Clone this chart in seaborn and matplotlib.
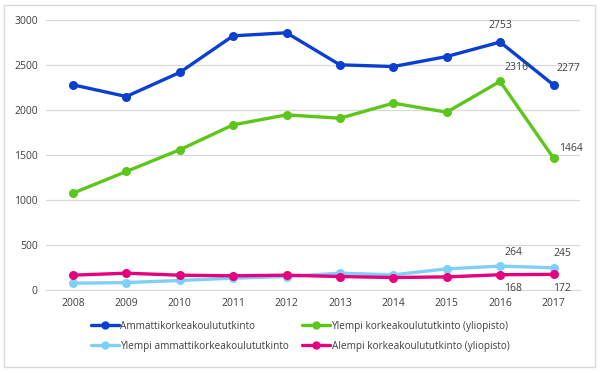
import pandas as pd
import numpy as np
import matplotlib.pyplot as plt
import seaborn as sns
from matplotlib.patches import Rectangle

years = list(range(2008, 2018))
amk = [2278, 2148, 2415, 2822, 2856, 2500, 2481, 2592, 2753, 2277]
ylempi_yo = [1074, 1315, 1556, 1833, 1944, 1907, 2074, 1974, 2316, 1464]
ylempi_amk = [74, 81, 104, 130, 148, 185, 167, 233, 264, 245]
alempi_yo = [163, 185, 163, 156, 163, 148, 137, 144, 168, 172]

series_names = [
    "Ammattikorkeakoulututkinto",
    "Ylempi korkeakoulututkinto (yliopisto)",
    "Ylempi ammattikorkeakoulututkinto",
    "Alempi korkeakoulututkinto (yliopisto)",
]
colors = ["#0a3fd0", "#5cc61a", "#7fd0f7", "#e6007e"]

df = pd.concat(
    [
        pd.DataFrame({"Vuosi": years, "Määrä": vals, "Tutkinto": name})
        for name, vals in zip(series_names, [amk, ylempi_yo, ylempi_amk, alempi_yo])
    ]
)

sns.set_style("white")
plt.rcParams["font.family"] = ["Open Sans", "DejaVu Sans"]

fig = plt.figure(figsize=(6, 3.74), dpi=100)
ax = fig.add_axes([0.077, 0.225, 0.89, 0.722])

sns.lineplot(
    data=df,
    x="Vuosi",
    y="Määrä",
    hue="Tutkinto",
    hue_order=series_names,
    palette=colors,
    marker="o",
    markersize=6.5,
    markeredgewidth=0,
    linewidth=2.4,
    ax=ax,
    legend=False,
)

ax.set_xlim(2007.5, 2017.5)
ax.set_ylim(0, 3000)
ax.set_xticks(years)
ax.set_yticks(np.arange(0, 3001, 500))
ax.tick_params(axis="both", length=0, labelsize=7.5, labelcolor="#404040", pad=6)
ax.grid(axis="y", color="#d9d9d9", linewidth=0.9)
ax.set_axisbelow(True)
for s in ax.spines.values():
    s.set_visible(False)
ax.spines["bottom"].set_visible(True)
ax.spines["bottom"].set_color("#d9d9d9")
ax.set_xlabel("")
ax.set_ylabel("")

lab_kw = dict(fontsize=7.5, color="#404040", textcoords="offset points")
ax.annotate(str(amk[8]), (years[8], amk[8]), xytext=(0, 8), ha="center", va="bottom", **lab_kw)
ax.annotate(str(amk[9]), (years[9], amk[9]), xytext=(2, 8), ha="left", va="bottom", **lab_kw)
ax.annotate(str(ylempi_yo[8]), (years[8], ylempi_yo[8]), xytext=(3, 6), ha="left", va="bottom", **lab_kw)
ax.annotate(str(ylempi_yo[9]), (years[9], ylempi_yo[9]), xytext=(4, 3), ha="left", va="bottom", **lab_kw)
ax.annotate(str(ylempi_amk[8]), (years[8], ylempi_amk[8]), xytext=(3, 6), ha="left", va="bottom", **lab_kw)
ax.annotate(str(ylempi_amk[9]), (years[9], ylempi_amk[9]), xytext=(0, 6), ha="left", va="bottom", **lab_kw)
ax.annotate(str(alempi_yo[8]), (years[8], alempi_yo[8]), xytext=(3, -6), ha="left", va="top", **lab_kw)
ax.annotate(str(alempi_yo[9]), (years[9], alempi_yo[9]), xytext=(0, -6), ha="left", va="top", **lab_kw)

# legend fills column-wise, so reorder to get two rows like the original
order = [0, 2, 1, 3]
handles = [
    plt.Line2D([], [], color=colors[i], marker="o", markersize=6, linewidth=2.4, markeredgewidth=0)
    for i in order
]
fig.legend(
    handles,
    [series_names[i] for i in order],
    loc="lower center",
    bbox_to_anchor=(0.5, 0.035),
    ncol=2,
    frameon=False,
    fontsize=7.2,
    labelcolor="#404040",
    handlelength=2.8,
    handletextpad=0.15,
    columnspacing=1.3,
    labelspacing=0.9,
)

fig.patches.append(
    Rectangle((0.007, 0.018), 0.985, 0.968, transform=fig.transFigure,
              fill=False, edgecolor="#d9d9d9", linewidth=1)
)

fig.savefig("out.png", dpi=100)
